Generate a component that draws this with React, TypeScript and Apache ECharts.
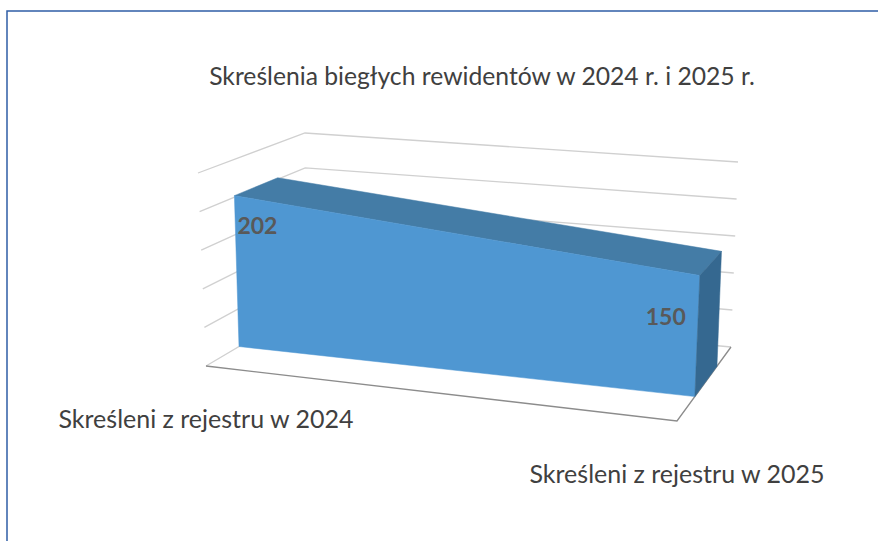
import React, { useEffect, useRef } from "react";
import * as echarts from "echarts";

const chartTitle = "Skreślenia biegłych rewidentów w 2024 r. i 2025 r.";
const categories = ["Skreśleni z rejestru w 2024", "Skreśleni z rejestru w 2025"];
const values = [202, 150];
const valueTicks = [0, 50, 100, 150, 200, 250];
const valueMax = 250;

// Layout of the perspective box: screen positions of the 8 corners, indexed [u][t][w]
const BOX: Record<string, number[]> = {
  c000: [206, 366], c100: [677, 421], c001: [306, 307], c101: [731, 347],
  c010: [198, 173], c110: [686, 211], c011: [305, 133], c111: [738, 162],
};
const DEPTH_FRONT = 0.33;
const DEPTH_BACK = 0.74;

const FONT = "Lato, 'Noto Sans', sans-serif";

function lerp(a: number[], b: number[], k: number) {
  return [a[0] + (b[0] - a[0]) * k, a[1] + (b[1] - a[1]) * k];
}
function project(u: number, t: number, w: number) {
  const b0 = lerp(BOX.c000, BOX.c100, u);
  const b1 = lerp(BOX.c001, BOX.c101, u);
  const t0 = lerp(BOX.c010, BOX.c110, u);
  const t1 = lerp(BOX.c011, BOX.c111, u);
  const bot = lerp(b0, b1, w);
  const top = lerp(t0, t1, w);
  return lerp(bot, top, t);
}

function normFactory(params: any, api: any) {
  const cs = params.coordSys;
  return (cat: number, val: number) => {
    const p = api.coord([cat, val]);
    return [(p[0] - cs.x) / cs.width, (cs.y + cs.height - p[1]) / cs.height];
  };
}

export default function App() {
  const ref = useRef<HTMLDivElement>(null);
  useEffect(() => {
    if (!ref.current) return;
    const chart = echarts.init(ref.current, undefined, { renderer: "svg" });
    const n = categories.length;
    const option: any = {
      animation: false,
      backgroundColor: "#ffffff",
      title: {
        text: chartTitle,
        left: 477,
        top: 58,
        textAlign: "center",
        textStyle: { fontFamily: FONT, fontSize: 24.7, fontWeight: "normal", color: "#404040" },
      },
      grid: { left: 0, top: 0, width: 100, height: 100, show: false },
      xAxis: { type: "category", data: categories, boundaryGap: false, show: false },
      yAxis: { type: "value", min: 0, max: valueMax, interval: 50, show: false },
      graphic: [
        {
          type: "rect",
          shape: { x: 7, y: 11, width: 1000, height: 1000 },
          style: { fill: "none", stroke: "#2f5ea6", lineWidth: 1.5 },
          silent: true,
        },
      ],
      series: [
        {
          type: "custom",
          name: "gridlines",
          z: 1,
          silent: true,
          data: valueTicks.map((v) => [0, v]),
          renderItem: (params: any, api: any) => {
            const norm = normFactory(params, api);
            const v = api.value(1);
            const a = norm(0, v);
            const b = norm(n - 1, v);
            const pts = [project(a[0], a[1], 0), project(a[0], a[1], 1), project(b[0], b[1], 1)];
            return {
              type: "polyline",
              shape: { points: pts },
              style: { stroke: "#d0d0d0", lineWidth: 1.3, fill: "none" },
            };
          },
        },
        {
          type: "custom",
          name: "floor",
          z: 2,
          silent: true,
          data: [[0, 0]],
          renderItem: (params: any, api: any) => {
            const norm = normFactory(params, api);
            const a = norm(0, 0);
            const b = norm(n - 1, 0);
            const pts = [project(a[0], a[1], 0), project(b[0], b[1], 0), project(b[0], b[1], 1)];
            return {
              type: "polyline",
              shape: { points: pts },
              style: { stroke: "#8c8c8c", lineWidth: 1.3, fill: "none" },
            };
          },
        },
        {
          type: "custom",
          name: "Skreśleni",
          z: 3,
          data: values.map((v, i) => [i, v]),
          renderItem: (params: any, api: any) => {
            const norm = normFactory(params, api);
            const i = params.dataIndexInside;
            const children: any[] = [];
            const p = norm(api.value(0), api.value(1));
            const base = norm(api.value(0), 0);
            if (i < n - 1) {
              const q = norm(api.value(0, i + 1), api.value(1, i + 1));
              const qb = norm(api.value(0, i + 1), 0);
              const front = [
                project(base[0], base[1], DEPTH_FRONT),
                project(p[0], p[1], DEPTH_FRONT),
                project(q[0], q[1], DEPTH_FRONT),
                project(qb[0], qb[1], DEPTH_FRONT),
              ];
              const top = [
                project(p[0], p[1], DEPTH_FRONT),
                project(p[0], p[1], DEPTH_BACK),
                project(q[0], q[1], DEPTH_BACK),
                project(q[0], q[1], DEPTH_FRONT),
              ];
              children.push({ type: "polygon", shape: { points: top }, style: { fill: "#447ca6", stroke: "#447ca6", lineWidth: 0.5 } });
              children.push({ type: "polygon", shape: { points: front }, style: { fill: "#4f97d2", stroke: "#4f97d2", lineWidth: 0.5 } });
            }
            if (i === n - 1) {
              const cap = [
                project(base[0], base[1], DEPTH_FRONT),
                project(p[0], p[1], DEPTH_FRONT),
                project(p[0], p[1], DEPTH_BACK),
                project(base[0], base[1], DEPTH_BACK),
              ];
              children.push({ type: "polygon", shape: { points: cap }, style: { fill: "#356890", stroke: "#356890", lineWidth: 0.5 } });
            }
            const anchor = project(p[0], p[1], DEPTH_FRONT);
            const first = i === 0;
            children.push({
              type: "text",
              z2: 10,
              style: {
                text: String(api.value(1)),
                x: anchor[0] + (first ? 3 : -14),
                y: anchor[1] + (first ? 29 : 40),
                align: first ? "left" : "right",
                verticalAlign: "middle",
                font: `bold 23px ${FONT}`,
                fill: "#595959",
              },
            });
            return { type: "group", children };
          },
        },
        {
          type: "custom",
          name: "categoryLabels",
          z: 4,
          silent: true,
          data: categories.map((c, i) => [i, 0]),
          renderItem: (params: any, api: any) => {
            const norm = normFactory(params, api);
            const i = params.dataIndexInside;
            const b = norm(api.value(0), 0);
            const pt = project(b[0], b[1], 0);
            return {
              type: "text",
              style: {
                text: categories[i],
                x: pt[0],
                y: pt[1] + 52,
                align: "center",
                verticalAlign: "middle",
                font: `25px ${FONT}`,
                fill: "#404040",
              },
            };
          },
        },
      ],
    };
    chart.setOption(option);
    return () => chart.dispose();
  }, []);
  return (
    <div
      ref={ref}
      style={{ position: "fixed", left: 0, top: 0, width: 878, height: 541 }}
    />
  );
}
